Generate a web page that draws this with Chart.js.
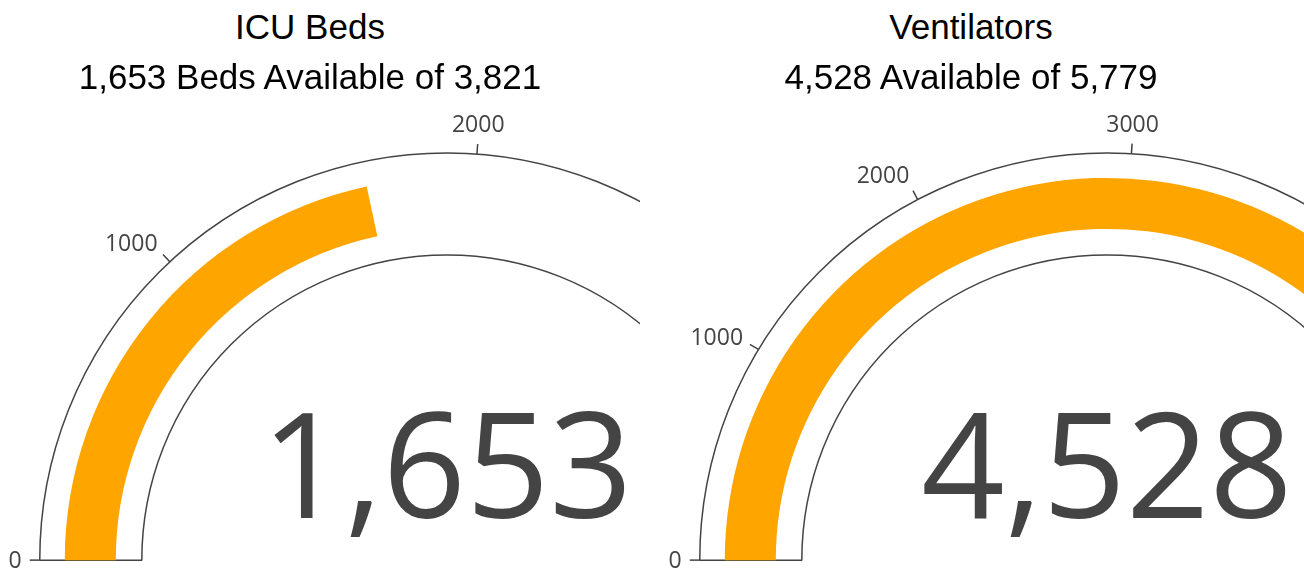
<!DOCTYPE html>
<html><head><meta charset="utf-8">
<script src="https://cdn.jsdelivr.net/npm/chart.js@4.4.0/dist/chart.umd.min.js"></script>
<style>
html,body{margin:0;padding:0;background:#fff;width:1304px;height:574px;overflow:hidden;position:relative;}
.clip{position:absolute;top:0;height:574px;overflow:hidden;}
.clip canvas{position:absolute;}
.title{position:absolute;font-family:"Liberation Sans",Arial,sans-serif;font-size:35px;line-height:35px;color:#000;white-space:nowrap;transform:translateX(-50%);}
</style></head><body>
<div id="root"></div>
<script>
// ---- data ----
const gaugeTitles = ['ICU Beds', 'Ventilators'];
const gaugeSubtitles = ['1,653 Beds Available of 3,821', '4,528 Available of 5,779'];
const gaugeValues = [1653, 4528];
const gaugeMax = [3821, 5779];
const gaugeTicks = [[0, 1000, 2000, 3000], [0, 1000, 2000, 3000, 4000, 5000]];

// ---- layout ----
const centersX = [447, 1107];
const clipBoxes = [[0, 640], [640, 1304]];
const titleCenters = [310, 971];
const PAD = 60;
const R = 407;
const BW = 1.5;
const CW = 2 * R + 2 + 2 * PAD, CH = R + 2 + 2 * PAD;

const tickPlugin = {
  id: 'gaugeTicks',
  afterDatasetsDraw(chart, args, opts) {
    const arc = chart.getDatasetMeta(0).data[0];
    const p = arc.getProps(['x', 'y', 'outerRadius', 'startAngle', 'endAngle'], true);
    const ctx = chart.ctx;
    const fs = 23, pad = 18, len = 10;
    ctx.save();
    ctx.strokeStyle = '#444'; ctx.lineWidth = BW;
    ctx.fillStyle = '#444'; ctx.font = fs + 'px "Open Sans"';
    ctx.textBaseline = 'alphabetic';
    opts.ticks.forEach(v => {
      const a = p.startAngle + (p.endAngle - p.startAngle) * v / opts.max;
      const c = Math.cos(a), s = Math.sin(a);
      ctx.beginPath();
      ctx.moveTo(p.x + c * p.outerRadius, p.y + s * p.outerRadius);
      ctx.lineTo(p.x + c * (p.outerRadius + len), p.y + s * (p.outerRadius + len));
      ctx.stroke();
      const up = -s;
      const ff = up > 0 ? 0.2 : 1;
      const lx = p.x + c * (p.outerRadius + pad);
      const ly = p.y - up * (p.outerRadius + pad + fs * ff) + Math.abs(c) * fs * 0.35;
      ctx.textAlign = Math.abs(c) < 0.1 ? 'center' : (c > 0 ? 'left' : 'right');
      ctx.fillText(String(v), lx, ly);
    });
    ctx.restore();
  }
};

const numberPlugin = {
  id: 'gaugeNumber',
  afterDraw(chart, args, opts) {
    const arc = chart.getDatasetMeta(0).data[0];
    const ctx = chart.ctx;
    ctx.save();
    ctx.fillStyle = '#444';
    ctx.font = '146px "Open Sans"';
    ctx.textAlign = 'center';
    ctx.textBaseline = 'alphabetic';
    ctx.fillText(opts.value.toLocaleString('en-US'), arc.x, arc.y - 42);
    ctx.restore();
  }
};

const root = document.getElementById('root');
const cutoutPct = (305 / R * 100) + '%';

for (let i = 0; i < 2; i++) {
  const clip = document.createElement('div');
  clip.className = 'clip';
  clip.style.left = clipBoxes[i][0] + 'px';
  clip.style.width = (clipBoxes[i][1] - clipBoxes[i][0]) + 'px';
  root.appendChild(clip);
  const left = Math.round(centersX[i] - R - 1 - PAD - clipBoxes[i][0]);
  const top = Math.round(560 - R - 1 - PAD);
  const mk = () => {
    const c = document.createElement('canvas');
    c.width = CW; c.height = CH;
    c.style.left = left + 'px'; c.style.top = top + 'px';
    c.style.width = CW + 'px'; c.style.height = CH + 'px';
    clip.appendChild(c);
    return c;
  };
  const baseOpts = {
    responsive: false, animation: false, events: [],
    rotation: -90, circumference: 180, cutout: cutoutPct,
    layout: { padding: PAD },
    plugins: { legend: { display: false }, tooltip: { enabled: false } }
  };
  // gauge background / outline
  new Chart(mk(), {
    type: 'doughnut',
    data: { datasets: [{ data: [gaugeMax[i]], backgroundColor: ['rgba(255,255,255,0)'], borderColor: '#444', borderWidth: BW }] },
    options: Object.assign({}, baseOpts, {
      plugins: Object.assign({}, baseOpts.plugins, { gaugeTicks: { max: gaugeMax[i], ticks: gaugeTicks[i] } })
    }),
    plugins: [tickPlugin]
  });
  // value bar
  new Chart(mk(), {
    type: 'doughnut',
    data: { datasets: [
      { data: [gaugeMax[i]], backgroundColor: ['rgba(0,0,0,0)'], borderColor: 'rgba(0,0,0,0)', borderWidth: BW, weight: 25 },
      { data: [gaugeValues[i], gaugeMax[i] - gaugeValues[i]], backgroundColor: ['#FFA500', 'rgba(0,0,0,0)'], borderColor: 'rgba(0,0,0,0)', borderWidth: 0, weight: 51 },
      { data: [gaugeMax[i]], backgroundColor: ['rgba(0,0,0,0)'], borderColor: 'rgba(0,0,0,0)', borderWidth: 0, weight: 26 }
    ] },
    options: Object.assign({}, baseOpts, {
      plugins: Object.assign({}, baseOpts.plugins, { gaugeNumber: { value: gaugeValues[i] } })
    }),
    plugins: [numberPlugin]
  });
  // titles
  const t = document.createElement('div');
  t.className = 'title'; t.textContent = gaugeTitles[i];
  t.style.left = titleCenters[i] + 'px'; t.style.top = '9px';
  document.body.appendChild(t);
  const st = document.createElement('div');
  st.className = 'title'; st.textContent = gaugeSubtitles[i];
  st.style.left = titleCenters[i] + 'px'; st.style.top = '59px';
  document.body.appendChild(st);
}
</script>
</body></html>
